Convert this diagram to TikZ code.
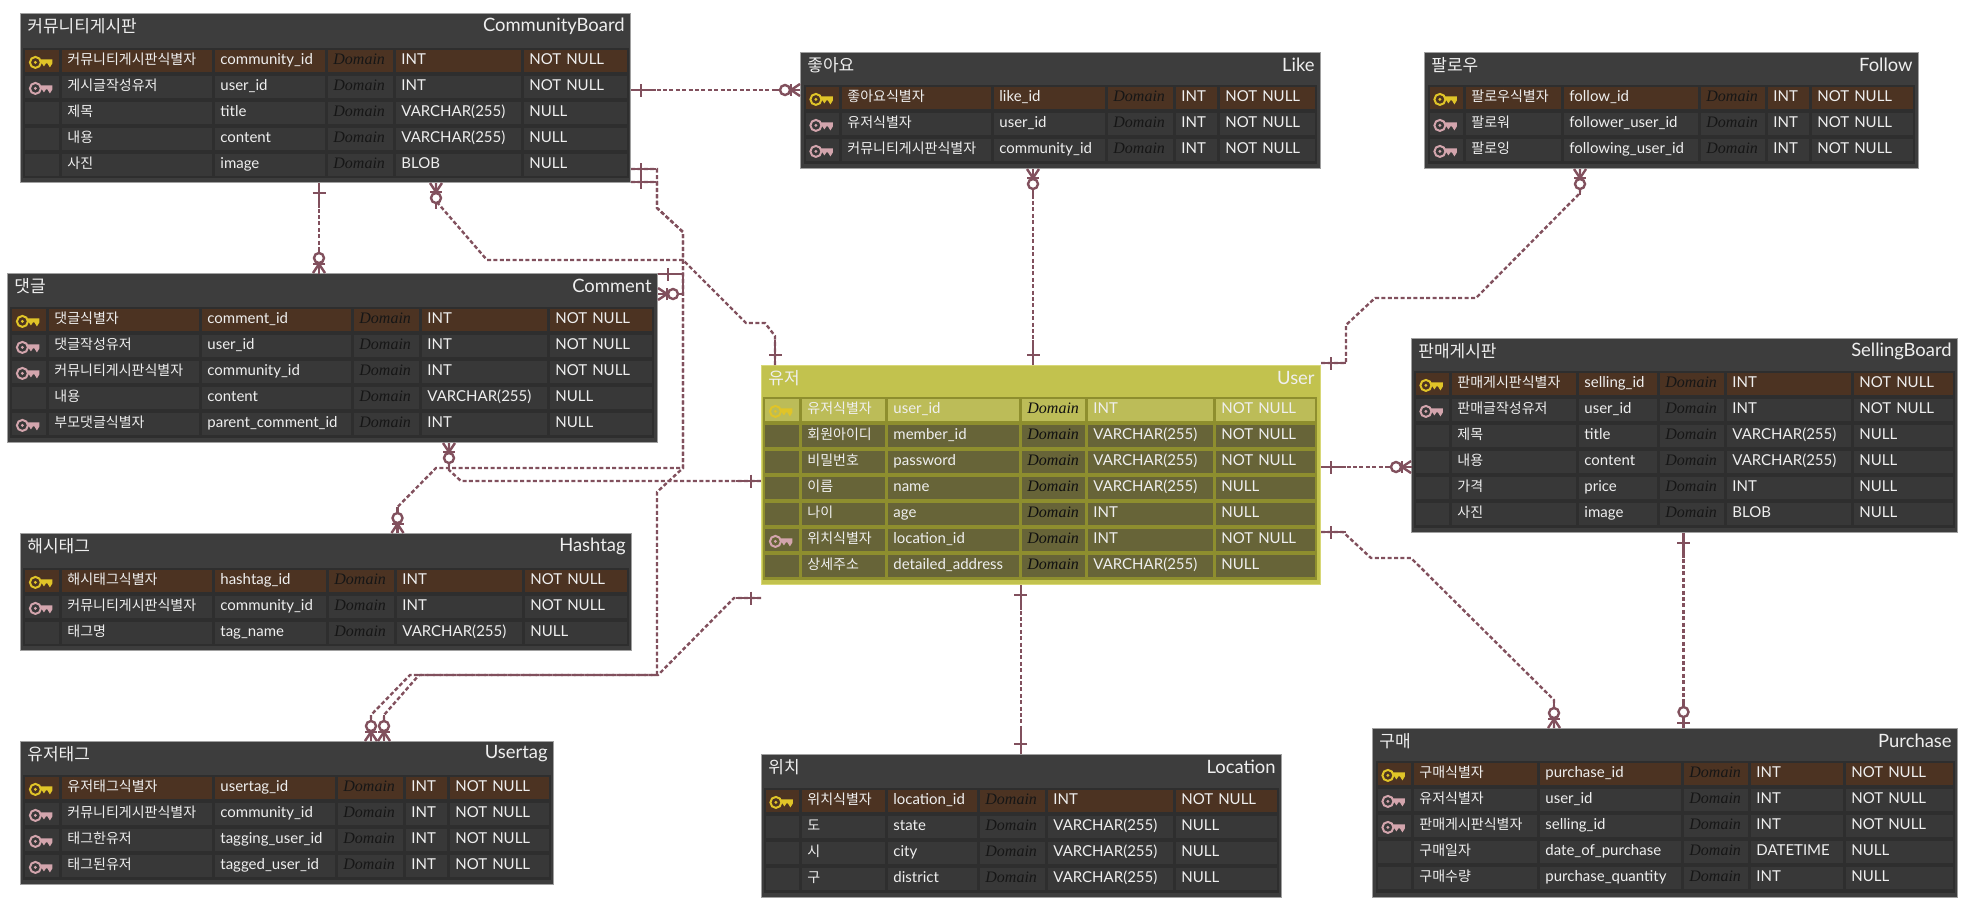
\documentclass[tikz,border=0pt]{standalone}
\usepackage{fontspec}
\setmainfont{Lato}
\newfontfamily\korfont{Noto Sans CJK KR}
\newfontfamily\domfont{Liberation Serif}
\usepackage{xcolor}
\usetikzlibrary{calc}
\definecolor{relcol}{HTML}{81505D}
\definecolor{keygold}{HTML}{E0C428}
\definecolor{keypink}{HTML}{D3A5AD}
\definecolor{erhead}{HTML}{3D3D3D}
\definecolor{ergrid}{HTML}{2E2E2E}
\definecolor{ercellbg}{HTML}{383838}
\definecolor{erpk}{HTML}{4C3322}
\definecolor{erink}{HTML}{EFEFEF}
\definecolor{erdom}{HTML}{161616}
\definecolor{erline}{HTML}{A0A0A0}
\tikzset{
  erframe/.style={rectangle, draw=erline, line width=0.5pt, anchor=north west, inner sep=0pt},
  erkortitle/.style={inner sep=0pt, text=erink, font=\korfont\fontsize{8.5}{10}\selectfont},
  erengtitle/.style={inner sep=0pt, text=erink, font=\fontsize{9.2}{11}\selectfont},
  ercell/.style={rectangle, anchor=north west, minimum height=11pt, inner ysep=0pt,
                 inner xsep=2.5pt, text=erink, text height=6pt, text depth=3pt,
                 font=\fontsize{7.5}{9}\selectfont},
  erkorcell/.style={ercell, font=\korfont\fontsize{7}{9}\selectfont},
  erdomcell/.style={ercell, text=erdom, font=\domfont\itshape\fontsize{8}{9}\selectfont},
  reldash/.style={draw=relcol, line width=1.2pt, dash pattern=on 2pt off 1.2pt},
  relsolid/.style={draw=relcol, line width=1.2pt},
  relone/.pic={
    \draw[relsolid] (0,0) -- (0,25);
    \draw[relsolid] (-6.5,10) -- (6.5,10);
  },
  relmany/.pic={
    \draw[relsolid] (0,0) -- (0,26);
    \draw[relsolid] (-6,0) -- (0,9) -- (6,0);
    \draw[relsolid] (-6,9) -- (6,9);
    \draw[relsolid, fill=white] (0,15) circle[radius=5];
  },
  relzero/.pic={
    \draw[relsolid] (0,0) -- (0,27);
    \draw[relsolid] (-6.5,5) -- (6.5,5);
    \draw[relsolid, fill=white] (0,16) circle[radius=5];
  },
  pics/keyicon/.style={code={
    \draw[#1, line width=1pt] (-5,0) circle[radius=5.5];
    \fill[#1] (-5,0) circle[radius=1.6];
    \fill[#1] (0,-3) -- (12,-3) -- (12,1) -- (9.5,5) -- (7,1) -- (5.5,1) -- (3.5,4) -- (1.5,1) -- (0,1) -- cycle;
  }}
}
% one cell: name, left, next left, top, style, text
\newcommand{\ercellat}[6]{
  \node[#5, fill=\cellcol, text width={(#3-#2-13)*0.5pt}] (#1) at (#2,#4) {\mbox{#6}};
}
% frame and title: name, left, top, right, bottom, top of rows, korean, english
\newcommand{\ertitle}[8]{
  \node[erframe, fill=erhead, minimum width={(#4-#2)*0.5pt}, minimum height={(#5-#3)*0.5pt}] (#1) at (#2,#3) {};
  \node[erkortitle, anchor=west] (#1-kor) at ({#2+7},{#3+13}) {#7};
  \node[erengtitle, anchor=east] (#1-eng) at ({#4-5},{#3+13}) {#8};
  \def\rowtop{#6}
  \def\rowbot{#5-4}
}
% rows: name, columns, list of flag/korean/code/type/null
\newcommand{\errows}[3]{
  \foreach \xa/\xb/\xc/\xd/\xe/\xf/\xg in {#2} {
    \fill[ergrid] ({\xa-2},{\rowtop-2}) rectangle ({\xg-1},{\rowbot});
    \foreach \kk/\kor/\eng/\typ/\nulla [count=\rown from 0] in {#3} {
      \pgfmathsetmacro\ya{\rowtop+26*\rown}
      \def\pflag{p}\def\fflag{f}
      \ifx\kk\pflag \def\cellcol{erpk}\else \def\cellcol{ercellbg}\fi
      \ercellat{#1-\rown-i}{\xa}{\xb}{\ya}{ercell}{}
      \ercellat{#1-\rown-k}{\xb}{\xc}{\ya}{erkorcell}{\kor}
      \ercellat{#1-\rown-c}{\xc}{\xd}{\ya}{ercell}{\eng}
      \ercellat{#1-\rown-d}{\xd}{\xe}{\ya}{erdomcell}{Domain}
      \ercellat{#1-\rown-t}{\xe}{\xf}{\ya}{ercell}{\typ}
      \ercellat{#1-\rown-n}{\xf}{\xg}{\ya}{ercell}{\nulla}
      \ifx\kk\pflag \pic at ($(#1-\rown-i.center)+(-2,1)$) {keyicon=keygold}; \fi
      \ifx\kk\fflag \pic at ($(#1-\rown-i.center)+(-2,1)$) {keyicon=keypink}; \fi
    }
  }
}
\begin{document}
\begin{tikzpicture}[x=0.5pt,y=-0.5pt]
  \useasboundingbox (0,0) rectangle (1970,912);

  % tables
  \ertitle{cb}{20}{13}{630}{182}{50}{커뮤니티게시판}{CommunityBoard}
  \errows{cb}{25/62/215/328/396/524/630}{
    p/커뮤니티게시판식별자/community\_id/INT/NOT NULL,
    f/게시글작성유저/user\_id/INT/NOT NULL,
    n/제목/title/VARCHAR(255)/NULL,
    n/내용/content/VARCHAR(255)/NULL,
    n/사진/image/BLOB/NULL}

  \ertitle{cm}{7}{273}{657}{442}{309}{댓글}{Comment}
  \errows{cm}{12/49/202/354/422/550/655}{
    p/댓글식별자/comment\_id/INT/NOT NULL,
    f/댓글작성유저/user\_id/INT/NOT NULL,
    f/커뮤니티게시판식별자/community\_id/INT/NOT NULL,
    n/내용/content/VARCHAR(255)/NULL,
    f/부모댓글식별자/parent\_comment\_id/INT/NULL}

  \ertitle{ht}{20}{533}{631}{650}{570}{해시태그}{Hashtag}
  \errows{ht}{25/62/215/329/397/525/630}{
    p/해시태그식별자/hashtag\_id/INT/NOT NULL,
    f/커뮤니티게시판식별자/community\_id/INT/NOT NULL,
    n/태그명/tag\_name/VARCHAR(255)/NULL}

  \ertitle{ut}{20}{741}{553}{884}{777}{유저태그}{Usertag}
  \errows{ut}{25/62/215/338/406/450/552}{
    p/유저태그식별자/usertag\_id/INT/NOT NULL,
    f/커뮤니티게시판식별자/community\_id/INT/NOT NULL,
    f/태그한유저/tagging\_user\_id/INT/NOT NULL,
    f/태그된유저/tagged\_user\_id/INT/NOT NULL}

  \ertitle{lk}{800}{52}{1320}{168}{87}{좋아요}{Like}
  \errows{lk}{806/842/994/1108/1176/1220/1318}{
    p/좋아요식별자/like\_id/INT/NOT NULL,
    f/유저식별자/user\_id/INT/NOT NULL,
    f/커뮤니티게시판식별자/community\_id/INT/NOT NULL}

  \ertitle{fw}{1424}{52}{1918}{168}{87}{팔로우}{Follow}
  \errows{fw}{1430/1466/1564/1701/1768/1812/1916}{
    p/팔로우식별자/follow\_id/INT/NOT NULL,
    f/팔로워/follower\_user\_id/INT/NOT NULL,
    f/팔로잉/following\_user\_id/INT/NOT NULL}

  \ertitle{sb}{1411}{338}{1957}{532}{373}{판매게시판}{SellingBoard}
  \errows{sb}{1416/1452/1579/1660/1727/1854/1956}{
    p/판매게시판식별자/selling\_id/INT/NOT NULL,
    f/판매글작성유저/user\_id/INT/NOT NULL,
    n/제목/title/VARCHAR(255)/NULL,
    n/내용/content/VARCHAR(255)/NULL,
    n/가격/price/INT/NULL,
    n/사진/image/BLOB/NULL}

  \ertitle{lc}{761}{754}{1281}{897}{790}{위치}{Location}
  \errows{lc}{766/802/888/980/1048/1176/1280}{
    p/위치식별자/location\_id/INT/NOT NULL,
    n/도/state/VARCHAR(255)/NULL,
    n/시/city/VARCHAR(255)/NULL,
    n/구/district/VARCHAR(255)/NULL}

  \ertitle{pc}{1372}{728}{1957}{897}{763}{구매}{Purchase}
  \errows{pc}{1378/1414/1540/1684/1751/1846/1956}{
    p/구매식별자/purchase\_id/INT/NOT NULL,
    f/유저식별자/user\_id/INT/NOT NULL,
    f/판매게시판식별자/selling\_id/INT/NOT NULL,
    n/구매일자/date\_of\_purchase/DATETIME/NULL,
    n/구매수량/purchase\_quantity/INT/NULL}

  % the selected table
  \begin{scope}
    \definecolor{erhead}{HTML}{C2C24E}
    \definecolor{ergrid}{HTML}{8E8E2E}
    \definecolor{ercellbg}{HTML}{676438}
    \definecolor{erpk}{HTML}{BCBC58}
    \definecolor{erline}{HTML}{D8D878}
    \definecolor{erdom}{HTML}{101010}
    \ertitle{us}{761}{365}{1320}{584}{399}{유저}{User}
    \errows{us}{765/802/888/1022/1088/1216/1318}{
      p/유저식별자/user\_id/INT/NOT NULL,
      n/회원아이디/member\_id/VARCHAR(255)/NOT NULL,
      n/비밀번호/password/VARCHAR(255)/NOT NULL,
      n/이름/name/VARCHAR(255)/NULL,
      n/나이/age/INT/NULL,
      f/위치식별자/location\_id/INT/NOT NULL,
      n/상세주소/detailed\_address/VARCHAR(255)/NULL}
  \end{scope}

  % relations
  \draw[reldash] (cb.east |- 0,90) -- (lk.west |- 0,90);
  \pic[rotate=90] at (cb.east |- 0,90) {relone};
  \pic[rotate=-90] at (lk.west |- 0,90) {relmany};

  \draw[reldash] (319,0 |- cb.south) -- (319,0 |- cm.north);
  \pic at (319,0 |- cb.south) {relone};
  \pic[rotate=180] at (319,0 |- cm.north) {relmany};

  \draw[reldash] (436,0 |- cb.south) -- (436,201) -- (487,260) -- (683,260) -- (746,323) -- (765,323) -- (775,336) -- (775,0 |- us.north);
  \pic at (436,0 |- cb.south) {relmany};
  \pic[rotate=180] at (775,0 |- us.north) {relone};

  \draw[reldash] (1033,0 |- lk.south) -- (1033,0 |- us.north);
  \pic at (1033,0 |- lk.south) {relmany};
  \pic[rotate=180] at (1033,0 |- us.north) {relone};

  \draw[reldash] (1580,0 |- fw.south) -- (1580,193) -- (1476,298) -- (1375,298) -- (1346,325) -- (1346,363) -- (us.east |- 0,363);
  \pic at (1580,0 |- fw.south) {relmany};
  \pic[rotate=90] at (us.east |- 0,363) {relone};

  \draw[reldash] (us.east |- 0,467) -- (sb.west |- 0,467);
  \pic[rotate=90] at (us.east |- 0,467) {relone};
  \pic[rotate=-90] at (sb.west |- 0,467) {relmany};

  \draw[reldash] (us.east |- 0,532) -- (1343,532) -- (1371,558) -- (1411,558) -- (1554,700) -- (1554,0 |- pc.north);
  \pic[rotate=90] at (us.east |- 0,532) {relone};
  \pic[rotate=180] at (1554,0 |- pc.north) {relmany};

  \draw[reldash] (1683.5,0 |- sb.south) -- (1683.5,0 |- pc.north);
  \pic at (1683.5,0 |- sb.south) {relone};
  \pic[rotate=180] at (1683.5,0 |- pc.north) {relzero};

  \draw[reldash] (1020.7,0 |- us.south) -- (1020.7,0 |- lc.north);
  \pic at (1020.7,0 |- us.south) {relone};
  \pic[rotate=180] at (1020.7,0 |- lc.north) {relone};

  \draw[relsolid] (cm.east |- 0,274) -- (683,274) -- (683,294) -- (cm.east |- 0,294);
  \pic[rotate=90] at (cm.east |- 0,274) {relone};
  \pic[rotate=90] at (cm.east |- 0,294) {relmany};

  \draw[reldash] (449,0 |- cm.south) -- (449,470) -- (461,481) -- (us.west |- 0,481);
  \pic at (449,0 |- cm.south) {relmany};
  \pic[rotate=-90] at (us.west |- 0,481) {relone};

  \draw[reldash] (cb.east |- 0,169) -- (657,169) -- (657,208) -- (683,232) -- (683,468) -- (436,468) -- (397.5,507) -- (397.5,0 |- ht.north);
  \pic[rotate=90] at (cb.east |- 0,169) {relone};
  \pic[rotate=180] at (397.5,0 |- ht.north) {relmany};

  \draw[reldash] (cb.east |- 0,182) -- (657,182) -- (657,208) -- (683,232) -- (683,468) -- (657,492) -- (657,675) -- (410,675) -- (371,715) -- (371,0 |- ut.north);
  \pic[rotate=90] at (cb.east |- 0,182) {relone};
  \pic[rotate=180] at (371,0 |- ut.north) {relmany};

  \draw[reldash] (us.west |- 0,598) -- (734,598) -- (658,675) -- (419,675) -- (384,715) -- (384,0 |- ut.north);
  \pic[rotate=-90] at (us.west |- 0,598) {relone};
  \pic[rotate=180] at (384,0 |- ut.north) {relmany};
\end{tikzpicture}
\end{document}
